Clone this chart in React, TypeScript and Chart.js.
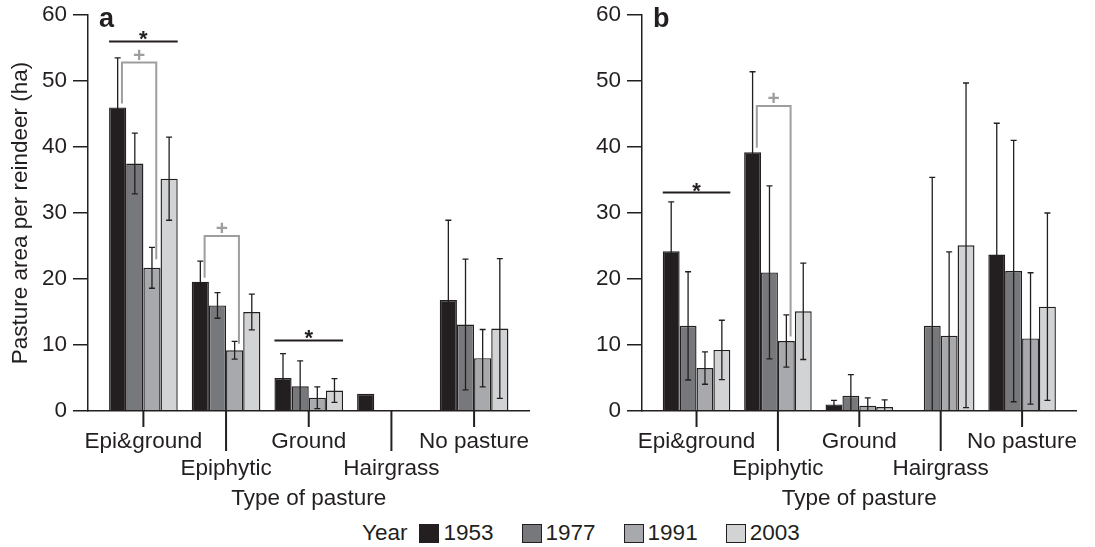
import React, { useEffect, useRef } from "react";
import { Chart, registerables } from "chart.js";

Chart.register(...registerables);

const FONT_FAMILY = "'Liberation Sans', Arial, Helvetica, sans-serif";
const INK = "#231f20";
const SIG_GREY = "#9e9e9e";

// ---------- data ----------
const categories = ["Epi&ground", "Epiphytic", "Ground", "Hairgrass", "No pasture"];
const years = ["1953", "1977", "1991", "2003"];
const yearColors = ["#231f20", "#77787b", "#a7a9ac", "#d1d3d4"];
const yTickValues = [0, 10, 20, 30, 40, 50, 60];

// Panel a: means
const a1953 = [46.0, 19.6, 5.0, 2.6, 16.8];
const a1977 = [37.5, 16.0, 3.75, null, 13.1];
const a1991 = [21.7, 9.2, 2.0, null, 8.0];
const a2003 = [35.2, 15.0, 3.1, null, 12.5];
// Panel a: error (half-length)
const a1953Err = [7.5, 3.1, 3.7, null, 12.1];
const a1977Err = [4.6, 1.95, 3.85, null, 9.9];
const a1991Err = [3.1, 1.35, 1.65, null, 4.35];
const a2003Err = [6.3, 2.7, 1.8, null, 10.6];

// Panel b: means
const b1953 = [24.2, 39.2, 1.0, null, 23.7];
const b1977 = [12.9, 21.0, 2.3, 12.9, 21.2];
const b1991 = [6.5, 10.6, 0.8, 11.4, 11.0];
const b2003 = [9.25, 15.1, 0.6, 25.1, 15.8];
// Panel b: error (half-length)
const b1953Err = [7.5, 12.2, 0.6, null, 19.9];
const b1977Err = [8.2, 13.1, 3.2, 22.5, 19.8];
const b1991Err = [2.45, 3.95, 1.2, 12.7, 9.95];
const b2003Err = [4.5, 7.3, 1.1, 24.6, 14.2];

// Significance marks ("*" lines across a group, "+" brackets between two years)
type Star = { group: number; y: number };
type Bracket = { group: number; from: number; to: number; yFrom: number; yTop: number; yTo: number };

const aStars: Star[] = [
  { group: 0, y: 56.0 },
  { group: 2, y: 10.7 },
];
const aBrackets: Bracket[] = [
  { group: 0, from: 0, to: 2, yFrom: 46.6, yTop: 52.8, yTo: 23.0 },
  { group: 1, from: 0, to: 2, yFrom: 20.2, yTop: 26.5, yTo: 10.2 },
];
const bStars: Star[] = [{ group: 0, y: 33.1 }];
const bBrackets: Bracket[] = [{ group: 1, from: 0, to: 2, yFrom: 39.9, yTop: 46.2, yTo: 11.3 }];

const yTitle = "Pasture area per reindeer (ha)";
const xTitle = "Type of pasture";
const legendTitle = "Year";

// ---------- component ----------
type Val = number | null;

interface PanelProps {
  letter: string;
  values: Val[][];
  errors: Val[][];
  stars: Star[];
  brackets: Bracket[];
  showYTitle: boolean;
  width: number;
  height: number;
  yAxisWidth: number;
  padRight: number;
}

const font = { family: FONT_FAMILY, size: 22.5 };

function Panel(props: PanelProps) {
  const ref = useRef<HTMLCanvasElement | null>(null);

  useEffect(() => {
    const canvas = ref.current;
    if (!canvas) return;

    const annot = {
      id: "annot" + props.letter,
      afterDatasetsDraw(chart: any) {
        const ctx: CanvasRenderingContext2D = chart.ctx;
        const ys = chart.scales.y;
        ctx.save();
        // error bars
        ctx.strokeStyle = INK;
        ctx.lineWidth = 1.3;
        props.values.forEach((series, di) => {
          const meta = chart.getDatasetMeta(di);
          series.forEach((v, j) => {
            const e = props.errors[di][j];
            if (v == null || e == null) return;
            const bar: any = meta.data[j];
            const x = bar.x;
            const top = ys.getPixelForValue(v + e);
            const low = v - e;
            const bot = ys.getPixelForValue(Math.max(0, low));
            ctx.beginPath();
            ctx.moveTo(x, top);
            ctx.lineTo(x, bot);
            ctx.moveTo(x - 3, top);
            ctx.lineTo(x + 3, top);
            if (low > 0) {
              ctx.moveTo(x - 3, bot);
              ctx.lineTo(x + 3, bot);
            }
            ctx.stroke();
          });
        });

        // star lines
        props.stars.forEach((s) => {
          const first: any = chart.getDatasetMeta(0).data[s.group];
          const last: any = chart.getDatasetMeta(years.length - 1).data[s.group];
          const x1 = first.x - first.width / 2;
          const x2 = last.x + last.width / 2;
          const y = ys.getPixelForValue(s.y);
          ctx.strokeStyle = INK;
          ctx.lineWidth = 2;
          ctx.beginPath();
          ctx.moveTo(x1, y);
          ctx.lineTo(x2, y);
          ctx.stroke();
          ctx.fillStyle = INK;
          ctx.font = `bold 22px ${FONT_FAMILY}`;
          ctx.textAlign = "center";
          ctx.textBaseline = "alphabetic";
          ctx.fillText("*", (x1 + x2) / 2, y + 5);
        });

        // brackets
        props.brackets.forEach((b) => {
          const f: any = chart.getDatasetMeta(b.from).data[b.group];
          const t: any = chart.getDatasetMeta(b.to).data[b.group];
          const x1 = f.x + f.width * 0.25;
          const x2 = t.x + t.width * 0.25;
          const yF = ys.getPixelForValue(b.yFrom);
          const yT = ys.getPixelForValue(b.yTop);
          const yE = ys.getPixelForValue(b.yTo);
          ctx.strokeStyle = SIG_GREY;
          ctx.lineWidth = 2;
          ctx.beginPath();
          ctx.moveTo(x1, yF);
          ctx.lineTo(x1, yT);
          ctx.lineTo(x2, yT);
          ctx.lineTo(x2, yE);
          ctx.stroke();
          ctx.fillStyle = SIG_GREY;
          ctx.font = `bold 21px ${FONT_FAMILY}`;
          ctx.textAlign = "center";
          ctx.textBaseline = "alphabetic";
          ctx.fillText("+", (x1 + x2) / 2, yT - 1);
        });

        // panel letter
        const area = chart.chartArea;
        ctx.fillStyle = INK;
        ctx.font = `bold 27px ${FONT_FAMILY}`;
        ctx.textAlign = "left";
        ctx.textBaseline = "alphabetic";
        ctx.fillText(props.letter, area.left + 11, area.top + 12);
        ctx.restore();
      },
      afterDraw(chart: any) {
        const ctx: CanvasRenderingContext2D = chart.ctx;
        const xs = chart.scales.x;
        const bottom = chart.chartArea.bottom;
        ctx.save();
        ctx.strokeStyle = INK;
        ctx.lineWidth = 2;
        categories.forEach((_, i) => {
          const x = xs.getPixelForValue(i);
          ctx.beginPath();
          ctx.moveTo(x, bottom);
          ctx.lineTo(x, bottom + (i % 2 ? 40 : 16));
          ctx.stroke();
        });
        ctx.restore();
      },
    };

    const chart = new Chart(canvas, {
      type: "bar",
      data: {
        datasets: years.map((yr, di) => ({
          label: yr,
          data: props.values[di].map((v, j) => ({ x: j, y: v })) as any,
          backgroundColor: yearColors[di],
          borderColor: INK,
          borderWidth: 1.4,
          categoryPercentage: 0.83,
          barPercentage: 1.0,
        })),
      },
      options: {
        responsive: false,
        animation: false,
        events: [],
        layout: { padding: { left: 0, top: 15, right: props.padRight, bottom: 3 } },
        plugins: {
          legend: { display: false },
          tooltip: { enabled: false },
        },
        scales: {
          x: {
            type: "linear",
            min: -0.67,
            max: categories.length - 1 + 0.67,
            offset: false,
            afterBuildTicks: (s: any) => {
              s.ticks = categories.map((_, i) => ({ value: i }));
            },
            afterFit: (s: any) => {
              s.height = 101;
            },
            grid: { display: false, drawTicks: false },
            border: { display: true, color: INK, width: 1.5, z: 1 },
            ticks: {
              autoSkip: false,
              maxRotation: 0,
              minRotation: 0,
              padding: 17,
              color: INK,
              font,
              callback: (v: any) => {
                const i = Math.round(Number(v));
                return i % 2 ? ["", categories[i]] : categories[i];
              },
            },
            title: {
              display: true,
              text: xTitle,
              color: INK,
              font,
              padding: { top: 0, bottom: 0 },
            },
          } as any,
          y: {
            type: "linear",
            min: 0,
            max: 60,
            afterBuildTicks: (s: any) => {
              s.ticks = yTickValues.map((v) => ({ value: v }));
            },
            afterFit: (s: any) => {
              s.width = props.yAxisWidth;
              s.paddingTop = 0;
              s.paddingBottom = 0;
            },
            grid: {
              display: true,
              drawOnChartArea: false,
              drawTicks: true,
              tickLength: 15,
              color: INK,
              lineWidth: 1.5,
            },
            border: { display: true, color: INK, width: 1.5, z: 1 },
            ticks: { padding: 6, color: INK, font },
            title: {
              display: props.showYTitle,
              text: yTitle,
              color: INK,
              font,
              padding: { top: 7, bottom: 0 },
            },
          } as any,
        },
      },
      plugins: [annot],
    });

    return () => chart.destroy();
  }, []);

  return <canvas ref={ref} width={props.width} height={props.height} style={{ display: "block" }} />;
}

function Legend() {
  return (
    <div
      style={{
        position: "absolute",
        left: 362,
        top: 521,
        height: 24,
        display: "flex",
        alignItems: "center",
        fontFamily: FONT_FAMILY,
        fontSize: 22.5,
        color: INK,
        lineHeight: "24px",
        whiteSpace: "nowrap",
      }}
    >
      <span style={{ marginRight: 12 }}>{legendTitle}</span>
      {years.map((yr, i) => (
        <span key={yr} style={{ display: "flex", alignItems: "center", marginRight: i < years.length - 1 ? 28 : 0 }}>
          <span
            style={{
              display: "inline-block",
              boxSizing: "border-box",
              width: 20,
              height: 19,
              background: yearColors[i],
              border: `1.5px solid ${INK}`,
              marginRight: 4,
            }}
          />
          <span>{yr}</span>
        </span>
      ))}
    </div>
  );
}

export default function App() {
  return (
    <div
      style={{
        position: "absolute",
        left: 0,
        top: 0,
        width: 1095,
        height: 547,
        background: "#ffffff",
        overflow: "hidden",
      }}
    >
      <div style={{ position: "absolute", left: 0, top: 0 }}>
        <Panel
          letter="a"
          values={[a1953, a1977, a1991, a2003]}
          errors={[a1953Err, a1977Err, a1991Err, a2003Err]}
          stars={aStars}
          brackets={aBrackets}
          showYTitle={true}
          width={548}
          height={515}
          yAxisWidth={88}
          padRight={15}
        />
      </div>
      <div style={{ position: "absolute", left: 548, top: 0 }}>
        <Panel
          letter="b"
          values={[b1953, b1977, b1991, b2003]}
          errors={[b1953Err, b1977Err, b1991Err, b2003Err]}
          stars={bStars}
          brackets={bBrackets}
          showYTitle={false}
          width={547}
          height={515}
          yAxisWidth={94}
          padRight={7}
        />
      </div>
      <Legend />
    </div>
  );
}
